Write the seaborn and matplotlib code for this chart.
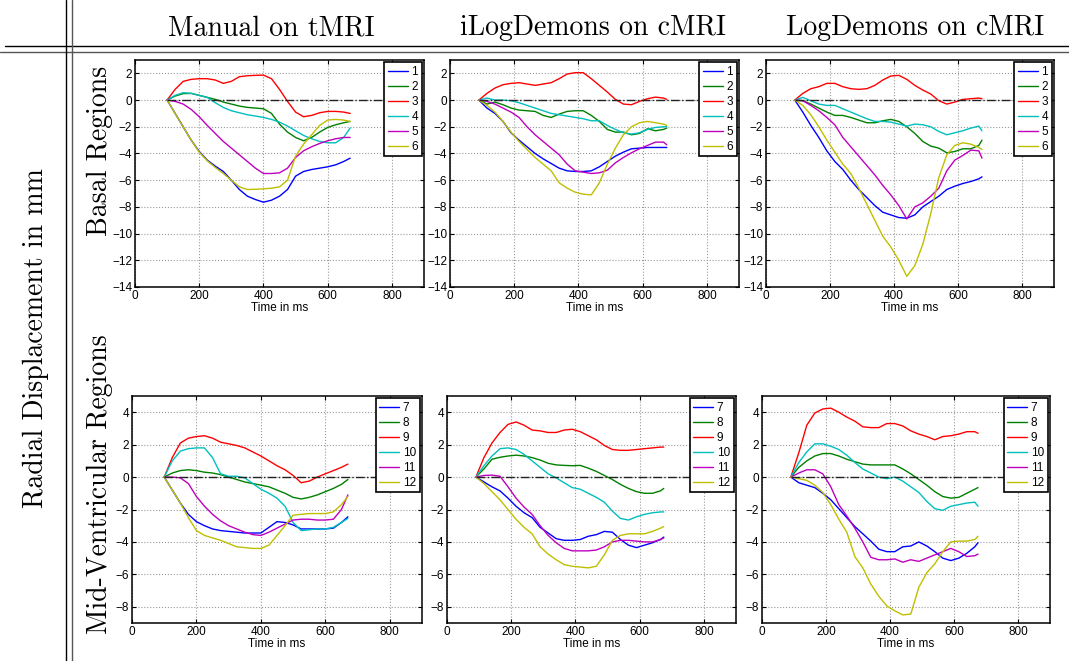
import pandas as pd
import matplotlib
matplotlib.use('Agg')
import matplotlib.pyplot as plt
import seaborn as sns

# time axis (ms) of the tagged MRI and of the cine MRI sequences
t_tmri = [100, 125, 150, 175, 200, 225, 250, 275, 300, 325, 350, 375, 400,
          425, 450, 475, 500, 525, 550, 575, 600, 625, 650, 670]
t_cmri = [90, 115, 140, 165, 190, 215, 240, 265, 290, 315, 340, 365, 390,
          415, 440, 465, 490, 515, 540, 565, 590, 615, 640, 665, 675]

basal_labels = ['1', '2', '3', '4', '5', '6']
mid_labels = ['7', '8', '9', '10', '11', '12']

# radial displacement in mm, one row per region
manual_basal = [
    [0, -1.0, -2.0, -3.0, -3.85, -4.5, -4.95, -5.35, -6.0, -6.7, -7.2, -7.45, -7.65,
     -7.5, -7.2, -6.7, -5.7, -5.35, -5.2, -5.1, -5.0, -4.85, -4.6, -4.35],
    [0, 0.3, 0.48, 0.5, 0.35, 0.2, 0.05, -0.15, -0.3, -0.45, -0.55, -0.6, -0.65,
     -1.0, -1.8, -2.4, -2.8, -3.05, -2.8, -2.4, -2.05, -1.85, -1.7, -1.6],
    [0, 0.8, 1.4, 1.55, 1.6, 1.6, 1.5, 1.25, 1.4, 1.75, 1.82, 1.85, 1.87,
     1.6, 0.8, -0.1, -0.9, -1.25, -1.15, -0.95, -0.85, -0.85, -0.9, -1.0],
    [0, 0.35, 0.55, 0.5, 0.35, 0.2, -0.2, -0.55, -0.8, -0.95, -1.1, -1.2, -1.3,
     -1.45, -1.65, -1.95, -2.3, -2.65, -2.9, -3.1, -3.2, -3.2, -2.8, -2.1],
    [0, -0.1, -0.3, -0.7, -1.25, -1.9, -2.5, -3.1, -3.6, -4.1, -4.6, -5.1, -5.5,
     -5.5, -5.45, -5.1, -4.3, -3.8, -3.5, -3.25, -3.05, -2.9, -2.8, -2.8],
    [0, -1.0, -2.0, -3.0, -3.9, -4.55, -5.05, -5.5, -6.0, -6.5, -6.7, -6.68, -6.65,
     -6.6, -6.5, -6.0, -4.2, -3.3, -2.6, -1.9, -1.5, -1.45, -1.5, -1.6],
]
ilog_basal = [
    [0, -0.6, -1.0, -1.6, -2.45, -3.0, -3.5, -4.0, -4.4, -4.75, -5.1, -5.3, -5.35,
     -5.35, -5.3, -5.0, -4.6, -4.2, -3.9, -3.65, -3.6, -3.55, -3.55, -3.55, -3.55],
    [0, -0.3, -0.15, -0.35, -0.6, -0.75, -0.8, -0.85, -1.15, -1.3, -1.05, -0.85, -0.8,
     -0.8, -1.15, -1.6, -2.2, -2.4, -2.4, -2.6, -2.5, -2.15, -2.3, -2.2, -2.1],
    [0, 0.5, 0.9, 1.15, 1.25, 1.3, 1.2, 1.1, 1.2, 1.3, 1.6, 1.95, 2.05,
     2.05, 1.6, 1.1, 0.6, 0.05, -0.3, -0.35, -0.1, 0.1, 0.22, 0.15, 0.05],
    [0, 0.15, 0.0, 0.0, -0.05, -0.2, -0.4, -0.6, -0.8, -1.0, -1.1, -1.2, -1.3,
     -1.4, -1.55, -1.55, -1.9, -2.2, -2.45, -2.55, -2.45, -2.2, -2.05, -2.0, -2.0],
    [0, -0.1, -0.3, -0.6, -0.9, -1.3, -2.0, -2.6, -3.1, -3.6, -4.1, -4.8, -5.3,
     -5.4, -5.5, -5.45, -5.25, -4.7, -4.3, -3.95, -3.65, -3.4, -3.15, -3.15, -3.35],
    [0, -0.4, -0.9, -1.6, -2.4, -3.1, -3.7, -4.3, -4.8, -5.3, -6.2, -6.6, -6.9,
     -7.05, -7.1, -6.2, -4.8, -3.6, -2.6, -2.0, -1.7, -1.6, -1.7, -1.8, -1.9],
]
log_basal = [
    [0, -0.9, -1.9, -2.8, -3.8, -4.6, -5.2, -6.0, -6.7, -7.3, -7.9, -8.4, -8.6,
     -8.8, -8.85, -8.6, -8.0, -7.6, -7.2, -6.7, -6.45, -6.25, -6.1, -5.9, -5.75],
    [0, -0.05, -0.3, -0.6, -0.9, -1.15, -1.15, -1.3, -1.5, -1.7, -1.7, -1.55, -1.45,
     -1.6, -2.0, -2.5, -3.1, -3.45, -3.6, -3.95, -3.85, -3.65, -3.65, -3.4, -3.0],
    [0, 0.5, 0.85, 1.0, 1.25, 1.25, 1.0, 0.85, 0.8, 0.85, 1.1, 1.5, 1.8,
     1.85, 1.55, 1.1, 0.75, 0.45, -0.05, -0.3, -0.15, 0.05, 0.1, 0.15, 0.1],
    [0, 0.2, -0.05, -0.3, -0.4, -0.4, -0.65, -0.9, -1.15, -1.4, -1.6, -1.6, -1.65,
     -1.8, -1.95, -1.8, -1.85, -2.0, -2.35, -2.6, -2.45, -2.3, -2.1, -1.95, -2.3],
    [0, -0.05, -0.4, -0.8, -1.3, -1.85, -2.8, -3.5, -4.2, -4.9, -5.6, -6.4, -7.1,
     -7.9, -8.9, -8.0, -7.7, -7.2, -6.6, -5.3, -4.5, -4.15, -3.75, -3.8, -4.35],
    [0, -0.4, -1.1, -2.0, -3.0, -3.9, -4.8, -5.5, -6.6, -7.8, -9.0, -10.2, -11.0,
     -12.0, -13.2, -12.4, -10.8, -8.5, -5.8, -4.1, -3.4, -3.2, -3.3, -3.55, -3.7],
]
manual_mid = [
    [0, -0.8, -1.6, -2.3, -2.75, -3.0, -3.2, -3.3, -3.35, -3.4, -3.45, -3.45, -3.45,
     -3.1, -2.75, -2.8, -2.95, -3.2, -3.2, -3.2, -3.2, -3.15, -2.8, -2.45],
    [0, 0.25, 0.4, 0.45, 0.4, 0.3, 0.25, 0.15, 0.0, -0.15, -0.3, -0.4, -0.5,
     -0.6, -0.8, -1.0, -1.25, -1.35, -1.25, -1.1, -0.9, -0.7, -0.45, -0.15],
    [0, 1.2, 2.1, 2.4, 2.5, 2.55, 2.4, 2.15, 2.05, 1.95, 1.8, 1.55, 1.3,
     1.0, 0.7, 0.45, 0.1, -0.35, -0.25, 0.0, 0.2, 0.4, 0.6, 0.8],
    [0, 1.0, 1.6, 1.75, 1.8, 1.8, 1.2, 0.2, 0.05, 0.05, -0.05, -0.4, -0.75,
     -1.0, -1.3, -1.8, -2.8, -3.3, -3.25, -3.2, -3.2, -3.1, -2.8, -2.55],
    [0, 0.0, -0.05, -0.4, -1.2, -1.8, -2.3, -2.7, -3.0, -3.2, -3.4, -3.55, -3.6,
     -3.4, -3.15, -2.9, -2.65, -2.6, -2.6, -2.65, -2.65, -2.6, -2.0, -1.1],
    [0, -0.8, -1.6, -2.5, -3.3, -3.6, -3.75, -3.9, -4.1, -4.3, -4.35, -4.4, -4.4,
     -4.2, -3.6, -3.0, -2.35, -2.3, -2.25, -2.25, -2.25, -2.15, -1.7, -1.2],
]
ilog_mid = [
    [0, -0.3, -0.6, -0.85, -1.3, -1.8, -2.2, -2.5, -3.1, -3.45, -3.8, -3.9, -3.9,
     -3.85, -3.65, -3.55, -3.35, -3.4, -3.85, -4.2, -4.35, -4.2, -4.05, -3.85, -3.7],
    [0, 0.5, 1.1, 1.22, 1.3, 1.35, 1.3, 1.2, 1.05, 0.85, 0.75, 0.72, 0.7,
     0.72, 0.55, 0.35, 0.1, -0.15, -0.45, -0.7, -0.9, -1.0, -1.0, -0.85, -0.7],
    [0, 1.2, 2.1, 2.75, 3.25, 3.4, 3.2, 2.9, 2.85, 2.75, 2.75, 2.9, 2.95,
     2.8, 2.55, 2.3, 1.95, 1.7, 1.65, 1.65, 1.7, 1.75, 1.8, 1.85, 1.85],
    [0, 0.7, 1.3, 1.75, 1.8, 1.7, 1.4, 1.0, 0.6, 0.2, -0.05, -0.35, -0.65,
     -0.75, -1.0, -1.25, -1.55, -2.1, -2.55, -2.65, -2.45, -2.3, -2.2, -2.15, -2.15],
    [0, 0.1, 0.12, 0.05, -0.6, -1.3, -1.85, -2.3, -3.0, -3.6, -4.05, -4.4, -4.55,
     -4.55, -4.55, -4.5, -4.3, -4.0, -3.9, -3.9, -3.95, -4.0, -4.0, -3.85, -3.75],
    [0, -0.4, -0.9, -1.4, -2.0, -2.6, -3.1, -3.5, -4.3, -4.75, -5.1, -5.4, -5.5,
     -5.55, -5.6, -5.5, -4.8, -3.9, -3.6, -3.5, -3.5, -3.5, -3.35, -3.15, -3.05],
]
log_mid = [
    [0, -0.35, -0.5, -0.65, -1.0, -1.4, -1.95, -2.5, -3.05, -3.5, -3.95, -4.45, -4.6,
     -4.6, -4.3, -4.25, -4.0, -4.25, -4.6, -5.0, -5.15, -5.0, -4.7, -4.3, -4.05],
    [0, 0.6, 1.0, 1.3, 1.45, 1.45, 1.3, 1.1, 0.95, 0.8, 0.75, 0.75, 0.75,
     0.75, 0.5, 0.2, -0.15, -0.5, -0.9, -1.2, -1.3, -1.25, -1.0, -0.75, -0.65],
    [0, 1.5, 3.2, 3.95, 4.2, 4.25, 4.0, 3.7, 3.45, 3.1, 3.05, 3.05, 3.3,
     3.3, 3.15, 2.85, 2.65, 2.5, 2.3, 2.5, 2.55, 2.65, 2.8, 2.8, 2.7],
    [0, 0.9, 1.55, 2.05, 2.05, 1.9, 1.7, 1.35, 0.9, 0.5, 0.25, 0.0, -0.1,
     0.0, -0.25, -0.6, -0.95, -1.5, -1.95, -2.05, -1.8, -1.7, -1.6, -1.55, -1.8],
    [0, 0.25, 0.45, 0.45, 0.2, -0.6, -1.7, -2.4, -3.15, -4.0, -4.95, -5.1, -5.1,
     -5.05, -5.25, -5.1, -5.2, -5.0, -4.8, -4.6, -4.4, -4.6, -4.9, -4.85, -4.75],
    [0, -0.1, -0.2, -0.5, -0.95, -1.7, -2.6, -3.4, -4.9, -5.6, -6.6, -7.35, -7.95,
     -8.25, -8.5, -8.45, -6.8, -5.9, -5.35, -4.6, -4.0, -3.95, -3.95, -3.85, -3.65],
]

# old matlab line colours b g r c m y
colors = [(0, 0, 1), (0, 0.5, 0), (1, 0, 0), (0, 0.75, 0.75), (0.75, 0, 0.75), (0.75, 0.75, 0)]

sns.set_style('white')
plt.rcParams['font.family'] = ['Liberation Sans', 'DejaVu Sans']
plt.rcParams['axes.unicode_minus'] = True
for k in ['text.color', 'axes.labelcolor', 'xtick.color', 'ytick.color']:
    plt.rcParams[k] = 'k'

W, H = 1069, 661
fig = plt.figure(figsize=(W / 100, H / 100), dpi=100)


def box(l, t, r, b):
    return [l / W, 1 - b / H, (r - l) / W, (b - t) / H]


panels = [
    (box(135, 60, 424, 287), t_tmri, manual_basal, basal_labels, (-14, 3), range(-14, 3, 2)),
    (box(450, 60, 739, 287), t_cmri, ilog_basal, basal_labels, (-14, 3), range(-14, 3, 2)),
    (box(766, 60, 1054, 287), t_cmri, log_basal, basal_labels, (-14, 3), range(-14, 3, 2)),
    (box(132, 396, 422, 623), t_tmri, manual_mid, mid_labels, (-9, 5), range(-8, 5, 2)),
    (box(447, 396, 736, 623), t_cmri, ilog_mid, mid_labels, (-9, 5), range(-8, 5, 2)),
    (box(762, 396, 1050, 623), t_cmri, log_mid, mid_labels, (-9, 5), range(-8, 5, 2)),
]

for rect, t, series, labels, ylim, yticks in panels:
    ax = fig.add_axes(rect)
    df = pd.DataFrame({'t': t * len(series),
                       'v': [v for s in series for v in s],
                       'region': [lab for lab in labels for _ in t]})
    sns.lineplot(data=df, x='t', y='v', hue='region', hue_order=labels,
                 palette=colors, linewidth=1.0, ax=ax, legend=False)
    ax.hlines(0, t[0], 900, colors='#222222', linestyles='-.', linewidth=1.0)
    ax.set_xlim(0, 900)
    ax.set_ylim(*ylim)
    ax.set_xticks([0, 200, 400, 600, 800])
    ax.set_yticks(list(yticks))
    ax.grid(True, linestyle=':', color='#999999', linewidth=0.8)
    ax.tick_params(direction='in', length=3, width=0.8, labelsize=8.5, pad=2, color='k',
                   bottom=True, left=True, top=True, right=True)
    for sp in ax.spines.values():
        sp.set_color('k')
        sp.set_linewidth(1.1)
    ax.set_xlabel('Time in ms', fontsize=8.5, labelpad=0)
    ax.set_ylabel('')
    handles = [plt.Line2D([], [], color=c, lw=1.0) for c in colors]
    leg = ax.legend(handles, labels, loc='upper right', fontsize=8.5,
                    borderaxespad=0.2, fancybox=False, framealpha=1,
                    edgecolor='k', handlelength=1.7, handletextpad=0.3,
                    labelspacing=0.25, borderpad=0.3)
    leg.get_frame().set_linewidth(1.2)

# table decoration: header, rules and row labels
cm = ['cmr10', 'DejaVu Serif']
for x, txt in [(271, 'Manual on tMRI'), (593, 'iLogDemons on cMRI'), (915, 'LogDemons on cMRI')]:
    fig.text(x / W, 1 - 35 / H, txt, ha='center', va='baseline', fontsize=20, family=cm)
fig.text(100 / W, 1 - 151 / H, 'Basal Regions', rotation=90, ha='center', va='center',
         fontsize=20, family=cm)
fig.text(100 / W, 1 - 484 / H, 'Mid-Ventricular Regions', rotation=90, ha='center',
         va='center', fontsize=20, family=cm)
fig.text(36 / W, 1 - 338 / H, 'Radial Displacement in mm', rotation=90, ha='center',
         va='center', fontsize=20, family=cm)

fig.add_artist(plt.Line2D([5 / W, 1], [1 - 45.5 / H] * 2, color='k', lw=1.0))
fig.add_artist(plt.Line2D([0, 1], [1 - 51.5 / H] * 2, color='#555555', lw=1.0))
fig.add_artist(plt.Line2D([66 / W] * 2, [0, 1], color='k', lw=1.0))
fig.add_artist(plt.Line2D([71.5 / W] * 2, [0, 1], color='#555555', lw=1.0))

fig.savefig('out.png', dpi=100)
